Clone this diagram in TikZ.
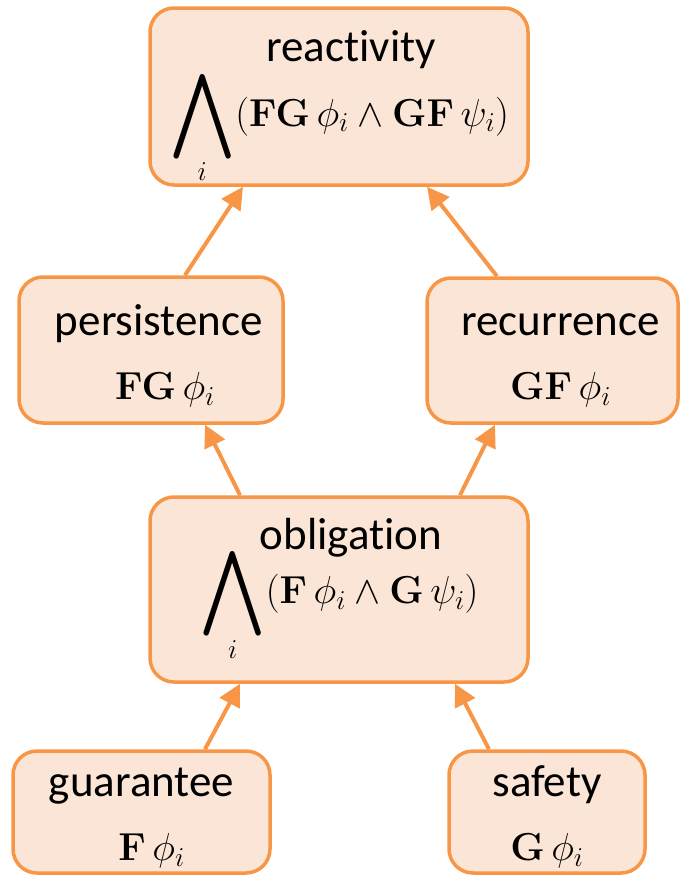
\documentclass[tikz,border=0pt]{standalone}
\usepackage{fix-cm}
\usepackage{amsmath}
\usepackage[no-math]{fontspec}
\setmainfont{Carlito}[Ligatures=NoCommon]
\usepackage{graphicx}
\usetikzlibrary{arrows.meta}
\definecolor{ltlorange}{HTML}{F79646}
\definecolor{ltlpeach}{HTML}{FBE5D6}
\newcommand{\bigand}{\mathop{\vcenter{\hbox{\scalebox{3.2}[3.4]{$\bigwedge$}}}}\limits_{i}}
\newcommand{\fsize}{\fontsize{39}{44}\selectfont}

\begin{document}
\begin{tikzpicture}[x=1pt,y=-1pt,>={Triangle[length=22pt,width=22pt]}]
  \tikzstyle{class}=[draw=ltlorange, fill=ltlpeach, line width=3.5pt, rounded corners=24pt,
    align=center, inner sep=0pt, font=\fontsize{45}{52}\selectfont]
  \tikzstyle{edge}=[draw=ltlorange, line width=4pt, ->]
  \useasboundingbox (0,0) rectangle (680,878);

  % top
  \node[class, minimum width=378pt, minimum height=177pt] (reac) at (339,96.5)
    {\rule{0pt}{52pt}\hspace*{24pt}reactivity\\[4pt] {\fsize$\bigand(\mathbf{FG}\,\phi_i \wedge \mathbf{GF}\,\psi_i)$}};
  % middle row
  \node[class, minimum width=264pt, minimum height=146pt] (pers) at (151,350)
    {\rule{0pt}{42pt}\hspace*{16pt}persistence\\[12pt] \hspace*{28pt}{\fsize$\mathbf{FG}\,\phi_i$}};
  \node[class, minimum width=251pt, minimum height=145pt] (recu) at (552.5,350.5)
    {\rule{0pt}{42pt}\hspace*{16pt}recurrence\\[12pt] \hspace*{16pt}{\fsize$\mathbf{GF}\,\phi_i$}};
  \node[class, minimum width=378pt, minimum height=185pt] (obli) at (339,589.5)
    {\hspace*{24pt}obligation\\[-6pt] {\fsize$\bigand(\mathbf{F}\,\phi_i \wedge \mathbf{G}\,\psi_i)$}};
  % bottom row
  \node[class, minimum width=257pt, minimum height=122pt] (guar) at (141.5,812)
    {\rule{0pt}{40pt}guarantee\\[12pt] \hspace*{20pt}{\fsize$\mathbf{F}\,\phi_i$}};
  \node[class, minimum width=196pt, minimum height=122pt] (safe) at (547,812)
    {\rule{0pt}{40pt}safety\\[12pt] {\fsize$\mathbf{G}\,\phi_i$}};

  \draw[edge] ([xshift=63.5pt]guar.north) -- ([xshift=-99pt]obli.south);
  \draw[edge] ([xshift=-58pt]safe.north) -- ([xshift=116pt]obli.south);
  \draw[edge] ([xshift=-99pt]obli.north) -- ([xshift=54pt]pers.south);
  \draw[edge] ([xshift=121pt]obli.north) -- ([xshift=-57.5pt]recu.south);
  \draw[edge] ([xshift=34pt]pers.north) -- ([xshift=-96pt]reac.south);
  \draw[edge] ([xshift=-55.5pt]recu.north) -- ([xshift=88pt]reac.south);
\end{tikzpicture}
\end{document}
